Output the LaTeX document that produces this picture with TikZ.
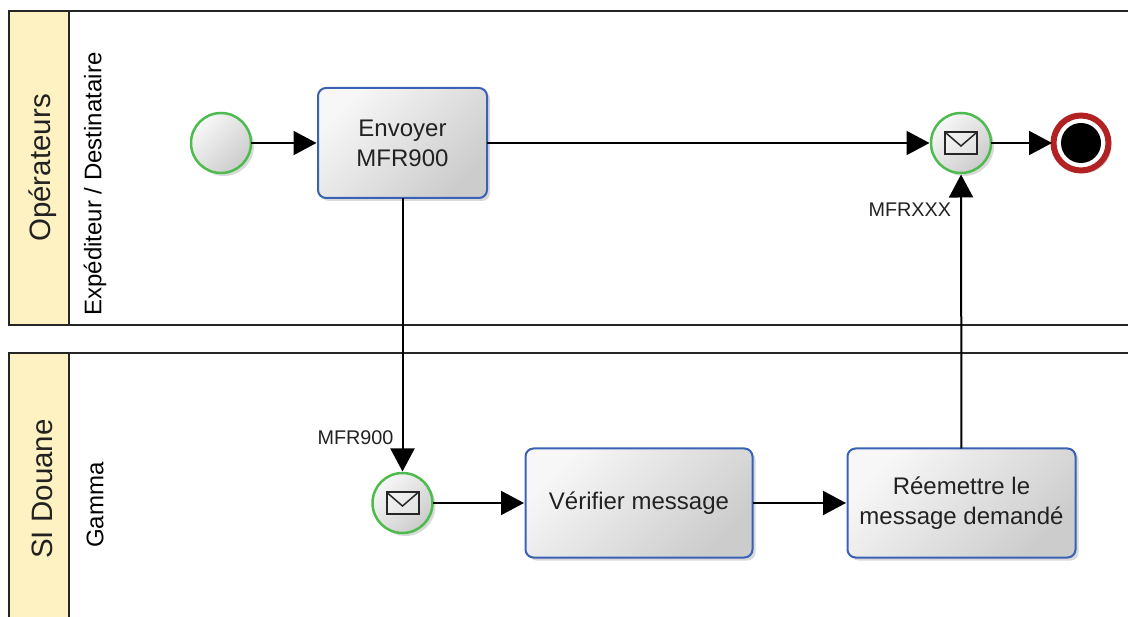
\documentclass[tikz,border=0pt]{standalone}
\usepackage{fontspec}
\setmainfont{Liberation Sans}
\usetikzlibrary{arrows.meta,positioning,shadows}
\definecolor{laneyellow}{HTML}{FFF2C2}
\definecolor{startgreen}{HTML}{4DBB4D}
\definecolor{taskblue}{HTML}{3A62B4}
\definecolor{endred}{HTML}{B22222}
\definecolor{textgrey}{HTML}{222222}

\begin{document}
\begin{tikzpicture}[x=1pt,y=-1pt,->,>={Triangle[length=23pt,width=24pt]},shorten >=1.5pt,line width=2pt,
	lane/.style={draw=black!85,-,line width=2pt,shorten >=0pt},
	lane head/.style={lane,fill=laneyellow},
	lane title/.style={rotate=90,font=\fontsize{29.5}{34}\selectfont,text=textgrey},
	lane name/.style={rotate=90,font=\fontsize{24}{28}\selectfont,text=black},
	soft fill/.style={left color=black!3,right color=black!20,shading angle=45,
		drop shadow={opacity=.3,shadow xshift=3pt,shadow yshift=-3pt}},
	event node/.style={circle,soft fill,draw=startgreen,line width=2.5pt,minimum size=60pt,inner sep=0pt,outer sep=0pt},
	mail node/.style={event node,path picture={
		\draw[-,shorten >=0pt,black!85,line width=2pt,fill=white,fill opacity=.3] (path picture bounding box.center) ++(-16pt,11pt) rectangle ++(32pt,-22pt);
		\draw[-,shorten >=0pt,black!85,line width=1.5pt] (path picture bounding box.center) ++(-15pt,10pt) -- ++(15pt,-13pt) -- ++(15pt,13pt);}},
	end node/.style={circle,draw=endred,fill=white,line width=6pt,minimum size=55pt,inner sep=0pt,outer sep=0pt,
		drop shadow={opacity=.3,shadow xshift=3pt,shadow yshift=-3pt},path picture={
		\fill[black] (path picture bounding box.center) circle (20pt);}},
	task node/.style={rectangle,rounded corners=8pt,soft fill,draw=taskblue,line width=2pt,
		align=center,text=textgrey,font=\fontsize{24}{30}\selectfont,inner sep=0pt,outer sep=0pt},
	flow label/.style={font=\fontsize{19.8}{23}\selectfont,text=textgrey,inner sep=1pt}]

	\useasboundingbox (0,0) rectangle (1128,617);
	\clip (0,0) rectangle (1128,617);

	% swimlanes
	\draw[lane] (69,11) rectangle (1150,325);
	\draw[lane head] (9,11) rectangle (69,325);
	\draw[lane] (69,353) rectangle (1150,640);
	\draw[lane head] (9,353) rectangle (69,640);
	\node[lane title] (oper) at (42.5,168) {Opérateurs};
	\node[lane title] (douane) at (42.5,489) {SI Douane};
	\node[lane name] (expe) at (95,184) {Expéditeur / Destinataire};
	\node[lane name] (gamma) at (95,505) {Gamma};

	\node[event node] (start) at (221,143) {};
	\node[task node,minimum width=169pt,minimum height=110pt] (envoi) [right=67pt of start] {Envoyer\\MFR900};
	\node[mail node] (retour) [right=444pt of envoi] {};
	\node[end node] (fin) [right=62.5pt of retour] {};
	\node[mail node] (recept) [below=275pt of envoi] {};
	\node[task node,minimum width=227pt,minimum height=109pt] (verif) [right=93pt of recept] {Vérifier message};
	\node[task node,minimum width=228pt,minimum height=109pt] (reemis) [right=95pt of verif] {Réemettre le\\message demandé};

	\path
	(start) edge (envoi)
	(envoi) edge (retour)
	edge node[flow label,pos=.873,left=7pt] {MFR900} (recept)
	(retour) edge (fin)
	(recept) edge (verif)
	(verif) edge (reemis)
	(reemis) edge node[flow label,pos=.865,left=8pt] {MFRXXX} (retour);
\end{tikzpicture}
\end{document}
